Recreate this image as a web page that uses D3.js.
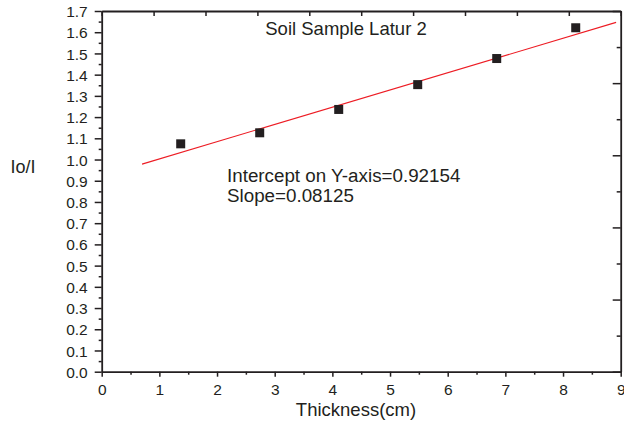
<!DOCTYPE html>
<html>
<head>
<meta charset="utf-8">
<script src="https://cdn.jsdelivr.net/npm/d3@7"></script>
<style>
  html, body { margin: 0; padding: 0; background: #fff; }
  svg { display: block; font-family: "Liberation Sans", Arial, sans-serif; }
  .axis path, .axis line { stroke: #231f20; }
  .axis text { fill: #231f20; font-size: 15.5px; }
</style>
</head>
<body>
<svg id="chart" width="624" height="425"></svg>
<script>
// data
const thickness = [1.37, 2.74, 4.11, 5.48, 6.85, 8.22];
const ratio = [1.074, 1.126, 1.236, 1.353, 1.476, 1.621];
const fitIntercept = 0.92154;
const fitSlope = 0.08125;
const fitRange = [0.7, 8.92];
const xTicks = [0, 1, 2, 3, 4, 5, 6, 7, 8, 9];
const yTicks = d3.range(0, 18).map(i => i / 10);

const svg = d3.select("#chart");
const ink = "#231f20";

const plotL = 101.7, plotR = 620.7, plotT = 11, plotB = 371.7;

const x = d3.scaleLinear().domain([0, 9]).range([plotL, plotR]);
const y = d3.scaleLinear().domain([0, 1.7]).range([plotB, plotT]);

// minor ticks first so majors sit on top
const xMinor = xTicks.slice(0, -1).map(v => v + 0.5);
const yMinor = yTicks.slice(0, -1).map(v => v + 0.05);

svg.append("g").attr("class", "axis")
  .attr("transform", `translate(0,${plotB})`)
  .call(d3.axisBottom(x).tickValues(xMinor).tickSize(3).tickFormat(""))
  .call(g => g.select(".domain").remove())
  .selectAll("line").attr("stroke-width", 1.5);

svg.append("g").attr("class", "axis")
  .attr("transform", `translate(${plotL},0)`)
  .call(d3.axisLeft(y).tickValues(yMinor).tickSize(3).tickFormat(""))
  .call(g => g.select(".domain").remove())
  .selectAll("line").attr("stroke-width", 1.5);

// bottom axis
svg.append("g").attr("class", "axis")
  .attr("transform", `translate(0,${plotB})`)
  .call(d3.axisBottom(x).tickValues(xTicks).tickSize(5).tickSizeOuter(0).tickPadding(7).tickFormat(d3.format("d")))
  .call(g => g.select(".domain").attr("stroke-width", 1.8))
  .call(g => g.selectAll("line").attr("stroke-width", 1.5));

// left axis
svg.append("g").attr("class", "axis")
  .attr("transform", `translate(${plotL},0)`)
  .call(d3.axisLeft(y).tickValues(yTicks).tickSize(7).tickSizeOuter(0).tickPadding(7).tickFormat(d3.format(".1f")))
  .call(g => g.select(".domain").attr("stroke-width", 1.8))
  .call(g => g.selectAll("line").attr("stroke-width", 1.5))
  .call(g => g.selectAll("text").attr("dy", "0.36em"));

// top axis: 10 even divisions, inward ticks
const topTicks = d3.range(0, 11).map(i => i * 0.9);
svg.append("g").attr("class", "axis")
  .attr("transform", `translate(0,${plotT})`)
  .call(d3.axisTop(x).tickValues(topTicks).tickSize(-5).tickSizeOuter(0).tickFormat(""))
  .call(g => g.select(".domain").attr("stroke-width", 1.8))
  .call(g => g.selectAll("line").attr("stroke-width", 1.5));

// right axis: 10 even divisions, inward ticks alternating length
const rightTicks = d3.range(0, 11).map(i => i * 0.17);
svg.append("g").attr("class", "axis")
  .attr("transform", `translate(${plotR},0)`)
  .call(d3.axisRight(y).tickValues(rightTicks).tickSize(-8).tickSizeOuter(0).tickFormat(""))
  .call(g => g.select(".domain").attr("stroke-width", 1.8))
  .call(g => g.selectAll(".tick line")
    .attr("stroke-width", 1.5)
    .attr("x2", (d, i) => i % 2 === 0 ? -8 : -4));

// fit line
svg.append("line")
  .attr("x1", x(fitRange[0]))
  .attr("y1", y(fitIntercept + fitSlope * fitRange[0]))
  .attr("x2", x(fitRange[1]))
  .attr("y2", y(fitIntercept + fitSlope * fitRange[1]))
  .attr("stroke", "#ed1c24")
  .attr("stroke-width", 1.1);

// points
const sq = 9;
svg.append("g")
  .selectAll("rect")
  .data(thickness.map((t, i) => ({ t, r: ratio[i] })))
  .join("rect")
  .attr("x", d => x(d.t) - sq / 2)
  .attr("y", d => y(d.r) - sq / 2)
  .attr("width", sq)
  .attr("height", sq)
  .attr("fill", ink);

// texts
svg.append("text")
  .attr("x", 346).attr("y", 35)
  .attr("text-anchor", "middle")
  .attr("font-size", 18.5)
  .attr("fill", ink)
  .text("Soil Sample Latur 2");

svg.append("text")
  .attr("x", 227).attr("y", 182)
  .attr("font-size", 18.8)
  .attr("fill", ink)
  .text("Intercept on Y-axis=0.92154");

svg.append("text")
  .attr("x", 227).attr("y", 202)
  .attr("font-size", 18.8)
  .attr("fill", ink)
  .text("Slope=0.08125");

svg.append("text")
  .attr("x", 356).attr("y", 416)
  .attr("text-anchor", "middle")
  .attr("font-size", 18.5)
  .attr("fill", ink)
  .text("Thickness(cm)");

svg.append("text")
  .attr("x", 23).attr("y", 173)
  .attr("text-anchor", "middle")
  .attr("font-size", 18)
  .attr("fill", ink)
  .text("Io/I");
</script>
</body>
</html>
